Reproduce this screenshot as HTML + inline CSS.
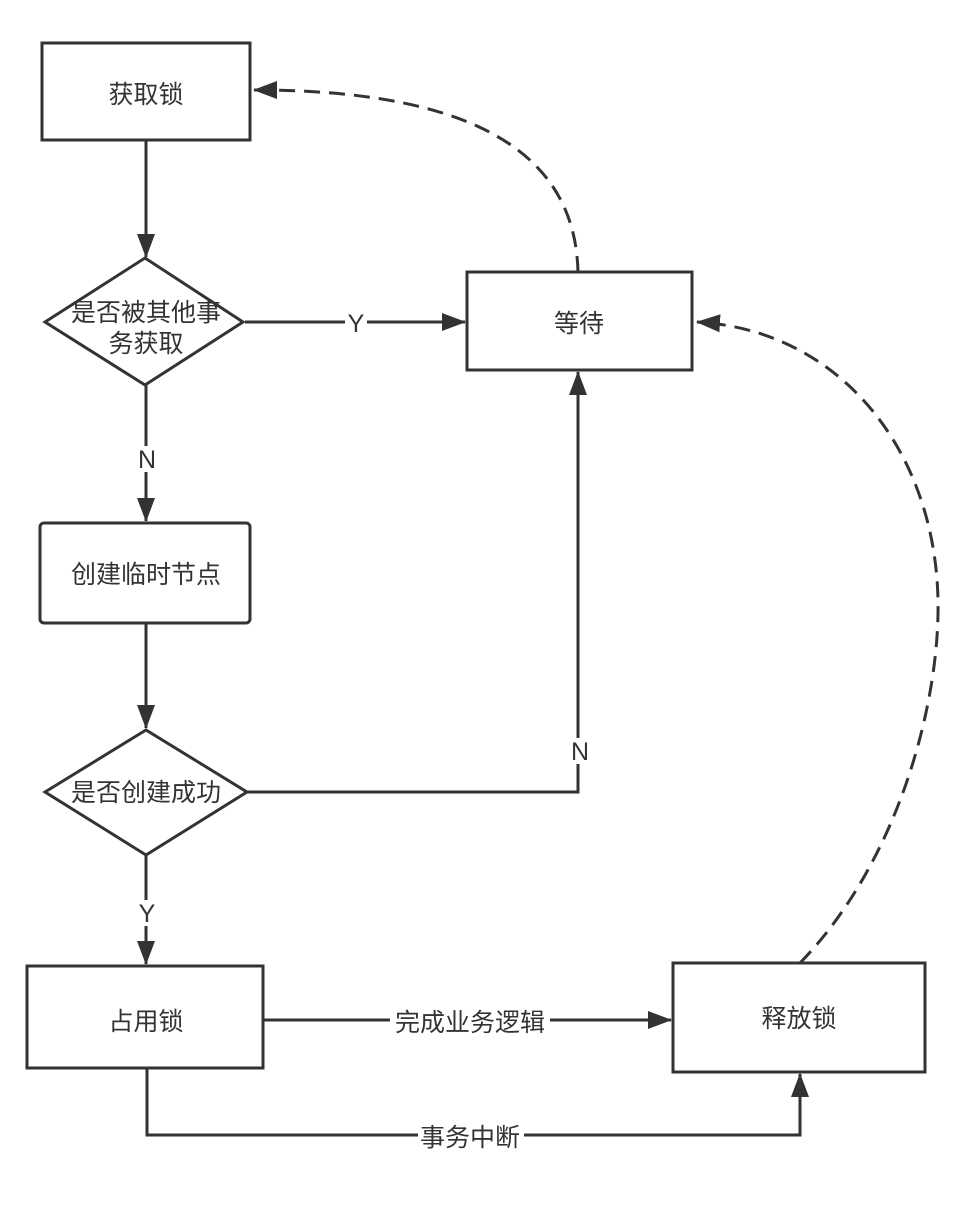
<!DOCTYPE html>
<html><head><meta charset="utf-8"><style>
html,body{margin:0;padding:0;background:#fff}
svg text{font-family:"Liberation Sans","Noto Sans CJK SC",sans-serif;font-size:25px;fill:#333}
</style></head><body>
<svg width="970" height="1204" viewBox="0 0 970 1204" xmlns="http://www.w3.org/2000/svg">
<defs>
<marker id="b" markerWidth="24" markerHeight="20" refX="23" refY="10" orient="auto" markerUnits="userSpaceOnUse"><path d="M0,1 L24,10 L0,19 Z" fill="#333"/></marker>
</defs>
<g fill="#fff" stroke="#333" stroke-width="3">
<rect x="42" y="43" width="208" height="97"/>
<polygon points="45,322 145,258 243,322 145,385"/>
<rect x="467" y="272" width="225" height="98"/>
<rect x="40" y="523" width="210" height="100" rx="4"/>
<polygon points="45,792 146,730 247,792 146,855"/>
<rect x="27" y="966" width="236" height="102"/>
<rect x="673" y="963" width="252" height="109"/>
</g>
<g fill="none" stroke="#333" stroke-width="3">
<path d="M146,140 V257" marker-end="url(#b)"/>
<path d="M245,322 H465" marker-end="url(#b)"/>
<path d="M146,385 V521" marker-end="url(#b)"/>
<path d="M146,623 V728" marker-end="url(#b)"/>
<path d="M247,792 H578 V372" marker-end="url(#b)"/>
<path d="M146,855 V964" marker-end="url(#b)"/>
<path d="M263,1020 H671" marker-end="url(#b)"/>
<path d="M147,1068 V1135 H800 V1074" marker-end="url(#b)"/>
<path d="M578,272 C575,140 450,90 254,90" stroke-dasharray="16,9" marker-end="url(#b)"/>
<path d="M800,963 C900,860 940,700 938,600 C935,450 840,330 697,322" stroke-dasharray="16,9" marker-end="url(#b)"/>
</g>
<g fill="#fff">
<rect x="345" y="310" width="22" height="26"/>
<rect x="136" y="446" width="22" height="26"/>
<rect x="569" y="738" width="22" height="26"/>
<rect x="136" y="900" width="22" height="26"/>
<rect x="390" y="1007" width="160" height="28"/>
<rect x="418" y="1122" width="106" height="28"/>
</g>
<g text-anchor="middle">
<text x="146" y="103">获取锁</text>
<text x="146" y="321">是否被其他事</text>
<text x="146" y="352">务获取</text>
<text x="579" y="332">等待</text>
<text x="146" y="583">创建临时节点</text>
<text x="146" y="801">是否创建成功</text>
<text x="146" y="1030">占用锁</text>
<text x="799" y="1027">释放锁</text>
<text x="356" y="332">Y</text>
<text x="147" y="468">N</text>
<text x="580" y="760">N</text>
<text x="147" y="922">Y</text>
<text x="470" y="1031">完成业务逻辑</text>
<text x="470" y="1146">事务中断</text>
</g>
</svg>
</body></html>
